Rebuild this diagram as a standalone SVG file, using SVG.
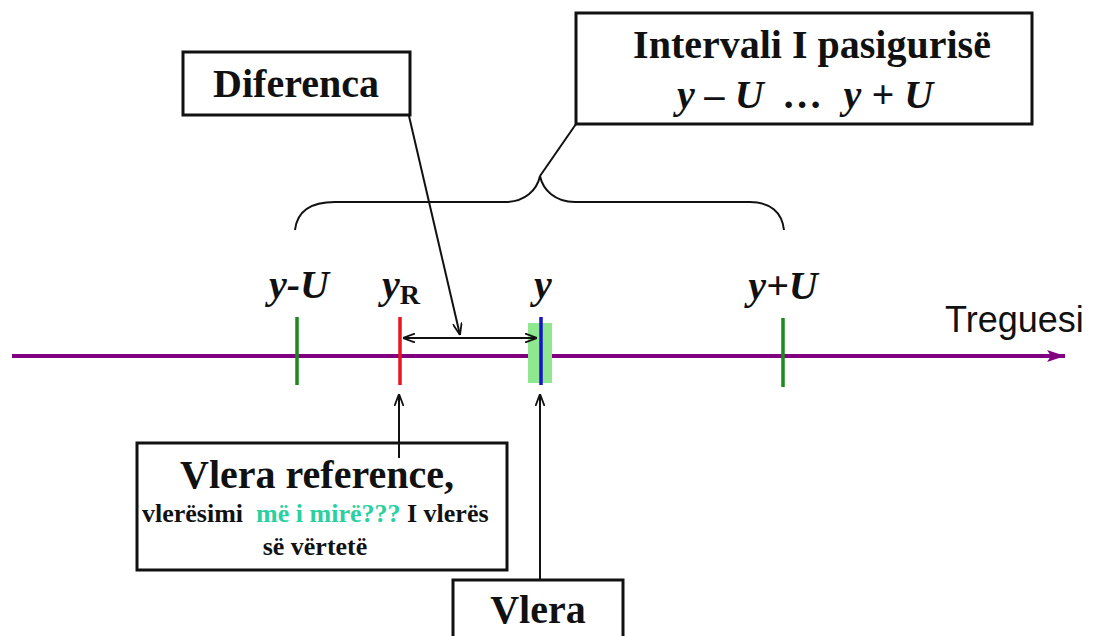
<svg xmlns="http://www.w3.org/2000/svg" width="1096" height="636" viewBox="0 0 1096 636">
<style>
.box{fill:#fff;stroke:#111;stroke-width:3}
.t{font-family:"Liberation Serif","Times New Roman",serif;font-weight:bold;fill:#111}
.it{font-style:italic}
.ln{fill:none;stroke:#111;stroke-width:2}
.tick{stroke-width:3.5}
</style>
<defs>
<marker id="ah" viewBox="0 0 12 10" refX="12" refY="5" markerWidth="12" markerHeight="10" markerUnits="userSpaceOnUse" orient="auto-start-reverse">
<path d="M0,0.5 L12,5 L0,9.5" fill="none" stroke="#111" stroke-width="1.8"/>
</marker>
<marker id="pah" viewBox="0 0 18 12" refX="18" refY="6" markerWidth="18" markerHeight="12" markerUnits="userSpaceOnUse" orient="auto">
<path d="M0,0 L18,6 L0,12 L4,6 Z" fill="#800080"/>
</marker>
</defs>
<rect width="1096" height="636" fill="#fff"/>

<g id="axis">
<line x1="12" y1="356" x2="1065" y2="356" stroke="#800080" stroke-width="4" marker-end="url(#pah)"/>
<text x="945" y="332" font-family="'Liberation Sans',Arial,sans-serif" font-size="36" fill="#111">Treguesi</text>
</g>

<g id="tick-yminusU">
<line class="tick" x1="297" y1="317" x2="297" y2="385" stroke="#1a8a1a"/>
<text class="t it" x="299" y="298" font-size="40" text-anchor="middle">y-U</text>
</g>
<g id="tick-yR">
<line class="tick" x1="400" y1="317" x2="400" y2="385" stroke="#e8141e"/>
<text class="t" x="382" y="298" font-size="40"><tspan class="it">y</tspan><tspan font-size="28" dy="6">R</tspan></text>
</g>
<g id="tick-y">
<rect x="528" y="323" width="24" height="60" fill="#8fe88f"/>
<line class="tick" x1="541" y1="317" x2="541" y2="385" stroke="#1515c8"/>
<text class="t it" x="543" y="298" font-size="40" text-anchor="middle">y</text>
</g>
<g id="tick-yplusU">
<line class="tick" x1="783" y1="318" x2="783" y2="387" stroke="#1a8a1a"/>
<text class="t it" x="783" y="299" font-size="40" text-anchor="middle">y+U</text>
</g>

<g id="connectors">
<path class="ln" d="M295,230 C297,212 310,202 335,202 L505,202 C525,202 537,190 540,176 C543,190 555,202 575,202 L750,202 C770,202 782,212 784,230"/>
<line class="ln" x1="540" y1="176" x2="576" y2="124"/>
<line class="ln" x1="409" y1="116" x2="460" y2="335" marker-end="url(#ah)"/>
<line class="ln" x1="403" y1="338" x2="537" y2="338" marker-start="url(#ah)" marker-end="url(#ah)"/>
<line class="ln" x1="399" y1="458" x2="399" y2="394" marker-end="url(#ah)"/>
<line class="ln" x1="540" y1="579" x2="540" y2="394" marker-end="url(#ah)"/>
</g>

<g id="node-interval">
<rect class="box" x="576" y="13" width="456" height="111"/>
<text class="t" x="812" y="58" font-size="40" text-anchor="middle">Intervali I pasigurisë</text>
<text class="t it" x="805" y="108" font-size="40" text-anchor="middle" xml:space="preserve">y – U  …  y + U</text>
</g>

<g id="node-diferenca">
<rect class="box" x="183" y="52" width="227" height="63"/>
<text class="t" x="296" y="97" font-size="40" text-anchor="middle">Diferenca</text>
</g>

<g id="node-reference">
<rect class="box" x="137" y="443" width="370" height="127"/>
<line class="ln" x1="399" y1="443" x2="399" y2="458"/>
<text class="t" x="317" y="488" font-size="40" text-anchor="middle">Vlera reference,</text>
<text class="t" x="142" y="522" font-size="26" xml:space="preserve">vlerësimi  <tspan fill="#2ad0a0">më i mirë???</tspan> I vlerës</text>
<text class="t" x="315" y="555" font-size="26" text-anchor="middle">së vërtetë</text>
</g>

<g id="node-vlera">
<rect class="box" x="453" y="580" width="170" height="70"/>
<text class="t" x="538" y="623" font-size="40" text-anchor="middle">Vlera</text>
</g>
</svg>
